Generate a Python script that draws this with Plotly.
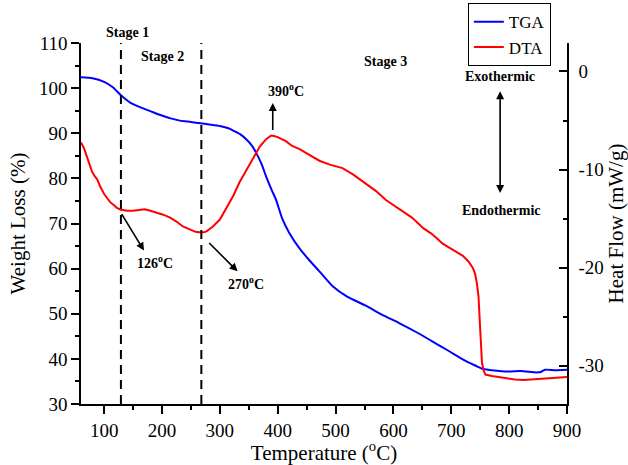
import plotly.graph_objects as go

# Thermogravimetric (TGA) curve: temperature (°C) vs weight loss (%)
tga_temp = [60, 80, 100, 115, 129, 145, 162, 180, 196, 215, 231, 250, 267, 285, 300,
            315, 323, 335, 346, 355, 363, 372, 380, 390, 397, 408, 420, 437, 455, 472,
            495, 520, 552, 580, 609, 640, 667, 695, 724, 745, 753, 770, 799, 820, 847,
            855, 862, 880, 900]
tga_weight = [102.4, 102.2, 101.4, 100.2, 98.4, 96.8, 95.8, 94.9, 94.1, 93.3, 92.8, 92.5,
              92.2, 91.9, 91.6, 91.1, 90.6, 89.8, 88.6, 87.3, 85.6, 83.2, 80.4, 77.3, 75.3,
              71.0, 67.9, 64.6, 61.8, 59.4, 56.1, 53.8, 51.8, 49.8, 48.0, 45.9, 43.9, 41.8,
              39.6, 38.3, 37.8, 37.5, 37.2, 37.3, 37.0, 37.1, 37.6, 37.5, 37.6]

# Differential thermal analysis (DTA) curve: temperature (°C) vs heat flow (mW/g)
dta_temp = [60, 65, 70, 75, 79, 84, 88, 93, 100, 105, 110, 116, 122, 129, 140, 150, 160,
            170, 180, 191, 202, 214, 225, 236, 248, 258, 265, 272, 277, 288, 300, 311, 323,
            334, 346, 357, 369, 380, 388, 392, 400, 414, 425, 437, 455, 472, 490, 512, 530,
            552, 570, 587, 605, 620, 632, 652, 665, 675, 684, 695, 707, 720, 730, 737, 741,
            744, 747, 749, 750, 752, 753, 756, 759, 770, 782, 795, 810, 825, 839, 855, 873,
            888, 900]
dta_heat = [-7.24, -7.8, -8.66, -9.6, -10.2, -10.7, -11.0, -11.7, -12.5, -12.9, -13.3, -13.6,
            -13.9, -14.1, -14.2, -14.2, -14.15, -14.05, -14.2, -14.4, -14.6, -14.9, -15.3,
            -15.8, -16.1, -16.35, -16.4, -16.4, -16.3, -15.8, -15.1, -14.0, -12.7, -11.3,
            -10.0, -8.8, -7.65, -6.9, -6.55, -6.55, -6.7, -7.1, -7.6, -7.9, -8.5, -9.1, -9.5,
            -9.85, -10.5, -11.4, -12.2, -13.1, -13.8, -14.4, -14.9, -16.0, -16.5, -17.0,
            -17.5, -17.9, -18.3, -18.8, -19.4, -20.0, -20.6, -21.5, -22.9, -24.5, -26.3,
            -28.5, -29.7, -30.5, -30.9, -31.05, -31.15, -31.3, -31.4, -31.45, -31.4, -31.35,
            -31.25, -31.2, -31.15]

# Axis ticks
x_ticks = [100, 200, 300, 400, 500, 600, 700, 800, 900]
y_left_ticks = [30, 40, 50, 60, 70, 80, 90, 100, 110]
y_right_ticks = [0, -10, -20, -30]
y_right_labels = ["0", "-10", "-20", "-30"]

# Stage boundaries (°C)
stage_bounds = [129, 268]

FONT = "Liberation Serif, Times New Roman, serif"

fig = go.Figure()
fig.add_trace(go.Scatter(x=tga_temp, y=tga_weight, mode="lines", name="TGA",
                         line=dict(color="#0000ff", width=2, shape="spline", smoothing=0.6)))
fig.add_trace(go.Scatter(x=dta_temp, y=dta_heat, mode="lines", name="DTA", yaxis="y2",
                         line=dict(color="#ff0000", width=2)))

for xb in stage_bounds:
    fig.add_shape(type="line", x0=xb, x1=xb, y0=30, y1=110, xref="x", yref="y",
                  line=dict(color="black", width=2, dash="9px,6px"))

bold = dict(family=FONT, size=14, color="black")

def label(x, y, text, xref="x", yref="y"):
    fig.add_annotation(x=x, y=y, xref=xref, yref=yref, text="<b>" + text + "</b>",
                       showarrow=False, font=bold)

def arrow(x0, y0, x1, y1, both=False):
    fig.add_annotation(x=x1, y=y1, ax=x0, ay=y0, xref="x", yref="y", axref="x", ayref="y",
                       text="", showarrow=True, arrowhead=2, arrowsize=1, arrowwidth=1.6,
                       arrowcolor="black", arrowside="end+start" if both else "end",
                       startarrowhead=2, startarrowsize=1)

# "Stage 1" sits above the plotting area, so it is placed in paper coordinates
label(0.048, 1.056, "Stage 1", xref="paper", yref="paper")
label(201.6, 107.0, "Stage 2")
label(585.5, 105.9, "Stage 3")
label(415, 99.5, "390<sup>o</sup>C")
label(784.4, 102.6, "Exothermic")
label(786.6, 72.9, "Endothermic")
label(187.8, 61.5, "126<sup>o</sup>C")
label(345.6, 56.9, "270<sup>o</sup>C")

arrow(128.8, 72.4, 168.9, 64.0)
arrow(279.0, 66.0, 330.6, 59.4)
arrow(391.4, 90.4, 391.4, 96.7)
arrow(784.4, 76.4, 784.4, 99.3, both=True)

tickfont = dict(family=FONT, size=19, color="black")
titlefont = dict(family=FONT, size=21, color="black")

fig.update_layout(
    width=628, height=465,
    margin=dict(l=81, r=61, t=43, b=61, autoexpand=False),
    paper_bgcolor="white", plot_bgcolor="white",
    font=dict(family=FONT, color="black"),
    showlegend=True,
    legend=dict(x=0.796, y=1.11, xanchor="left", yanchor="top",
                bordercolor="black", borderwidth=1, bgcolor="white",
                font=dict(family=FONT, size=17, color="black"),
                tracegroupgap=0, itemwidth=30),
    xaxis=dict(range=[60, 900], tickvals=x_ticks, ticks="outside", ticklen=8, tickwidth=1.5,
               tickcolor="black", showline=True, linecolor="black", linewidth=1.5,
               showgrid=False, zeroline=False, tickfont=tickfont, automargin=False,
               minor=dict(ticks="outside", ticklen=4, dtick=50, tick0=0, tickcolor="black",
                          tickwidth=1.5, showgrid=False),
               title=dict(text="Temperature (<sup>o</sup>C)", font=titlefont, standoff=6)),
    yaxis=dict(range=[30, 110], tickvals=y_left_ticks, ticks="outside", ticklen=8,
               tickwidth=1.5, tickcolor="black", showline=True, linecolor="black",
               linewidth=1.5, showgrid=False, zeroline=False, tickfont=tickfont,
               automargin=False,
               minor=dict(ticks="outside", ticklen=4, dtick=5, tick0=0, tickcolor="black",
                          tickwidth=1.5, showgrid=False),
               title=dict(text="Weight Loss (%)", font=titlefont, standoff=8)),
    yaxis2=dict(range=[-33.9, 2.9], overlaying="y", side="right", tickvals=y_right_ticks,
                ticktext=y_right_labels, ticks="inside", ticklen=8, tickwidth=1.5,
                tickcolor="black", showline=True, linecolor="black", linewidth=1.5,
                showgrid=False, zeroline=False, tickfont=tickfont, ticklabelstandoff=6,
                automargin=False,
                minor=dict(ticks="inside", ticklen=4, dtick=5, tick0=0, tickcolor="black",
                           tickwidth=1.5, showgrid=False),
                title=dict(text="Heat Flow (mW/g)", font=titlefont, standoff=10)),
)

fig.write_html("out.html")
